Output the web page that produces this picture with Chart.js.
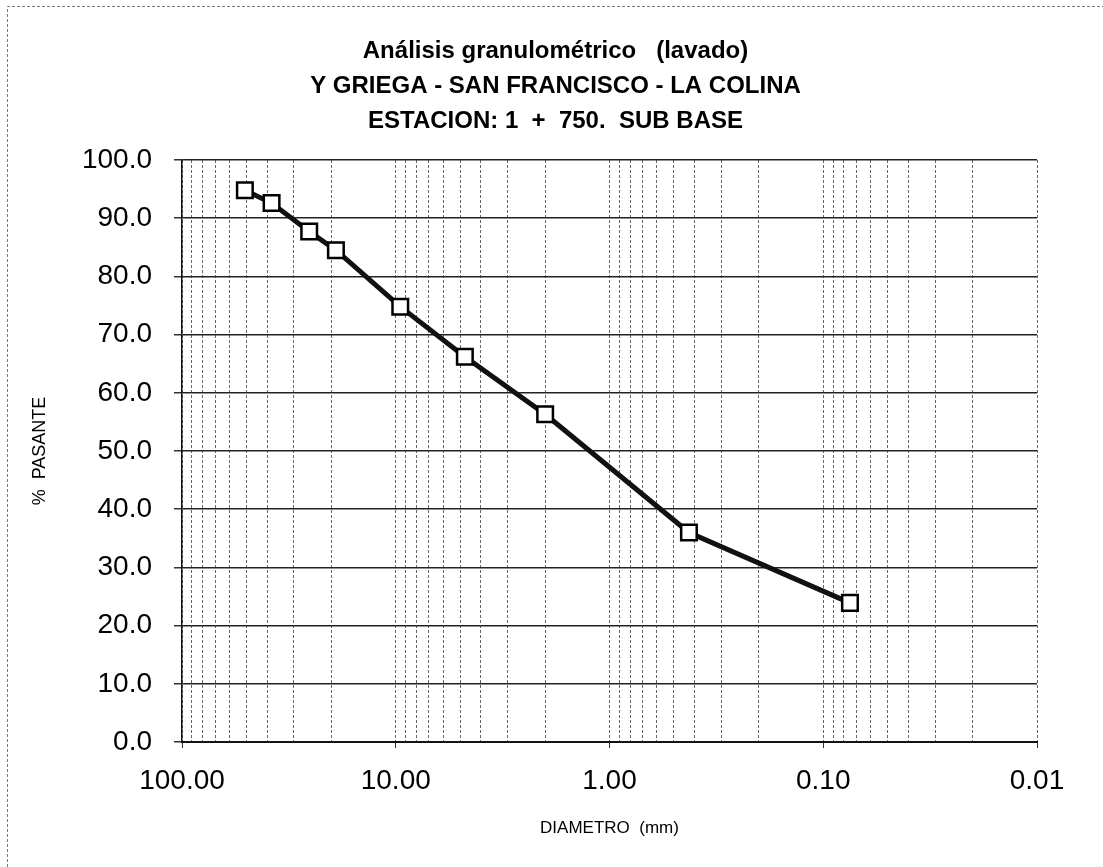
<!DOCTYPE html>
<html>
<head>
<meta charset="utf-8">
<title>Análisis granulométrico</title>
<script src="https://cdn.jsdelivr.net/npm/chart.js@4/dist/chart.umd.min.js"></script>
<style>
  html, body { margin: 0; padding: 0; background: #ffffff; }
  #wrap { width: 1103px; height: 867px; position: relative; }
  canvas { display: block; }
</style>
</head>
<body>
<div id="wrap"><canvas id="c" width="1103" height="867"></canvas></div>
<script>
// ---- data ----
const sieveSizesMm   = [50.8, 38.1, 25.4, 19.05, 9.525, 4.75, 2.0, 0.425, 0.075];
const percentPassing = [94.8, 92.6, 87.7, 84.5, 74.8, 66.2, 56.3, 36.0, 23.9];

const xTickValues = [100, 10, 1, 0.1, 0.01];
const xTickLabels = ['100.00', '10.00', '1.00', '0.10', '0.01'];
const yTickValues = [0, 10, 20, 30, 40, 50, 60, 70, 80, 90, 100];
const yTickLabels = ['0.0', '10.0', '20.0', '30.0', '40.0', '50.0', '60.0', '70.0', '80.0', '90.0', '100.0'];

const titleLines = [
  'Análisis granulométrico   (lavado)',
  'Y GRIEGA - SAN FRANCISCO - LA COLINA',
  'ESTACION: 1  +  750.  SUB BASE'
];
const xAxisTitle = 'DIAMETRO  (mm)';
const yAxisTitle = '%  PASANTE';

// log grid lines: 1..9 in each decade between the tick values
const decadeStarts = [0.01, 0.1, 1, 10];
const gridMultipliers = [1, 2, 3, 4, 5, 6, 7, 8, 9];

function findIndex(arr, v) {
  for (let i = 0; i < arr.length; i++) {
    if (Math.abs(arr[i] - v) <= Math.abs(arr[i]) * 1e-6 + 1e-9) return i;
  }
  return -1;
}

const points = sieveSizesMm.map((d, i) => ({ x: d, y: percentPassing[i] }));

Chart.defaults.font.family = '"Liberation Sans", Arial, Helvetica, sans-serif';
Chart.defaults.color = '#000';

const PAD_LEFT = 74;      // shifts the centred title toward the reference position
const AXIS_RIGHT = 182;   // x position of the y axis line

const framePlugin = {
  id: 'frame',
  beforeDraw(chart) {
    const ctx = chart.ctx;
    ctx.save();
    ctx.fillStyle = '#ffffff';
    ctx.fillRect(0, 0, chart.width, chart.height);
    ctx.strokeStyle = '#777';
    ctx.lineWidth = 1;
    ctx.setLineDash([3, 2]);
    ctx.beginPath();
    ctx.moveTo(7.5, chart.height);
    ctx.lineTo(7.5, 6.5);
    ctx.lineTo(chart.width, 6.5);
    ctx.stroke();
    ctx.restore();
  }
};

new Chart(document.getElementById('c'), {
  type: 'line',
  data: {
    datasets: [{
      data: points,
      borderColor: '#111',
      borderWidth: 5,
      tension: 0,
      fill: false,
      pointStyle: 'rect',
      pointRadius: 11,
      pointHoverRadius: 11,
      pointBackgroundColor: '#ffffff',
      pointBorderColor: '#000',
      pointBorderWidth: 2.5,
      clip: false
    }]
  },
  options: {
    responsive: false,
    animation: false,
    devicePixelRatio: 1,
    layout: { padding: { left: PAD_LEFT, right: 66, top: 0, bottom: 0 } },
    plugins: {
      legend: { display: false },
      tooltip: { enabled: false },
      title: {
        display: true,
        text: titleLines,
        color: '#000',
        font: { size: 24, weight: 'bold', lineHeight: 35 / 24 },
        padding: { top: 33.5, bottom: 21.5 }
      }
    },
    scales: {
      x: {
        type: 'logarithmic',
        min: 0.01,
        max: 100,
        reverse: true,
        afterFit(scale) { scale.height = 125; },
        afterBuildTicks(scale) {
          const vals = [];
          decadeStarts.forEach(d => gridMultipliers.forEach(m => vals.push(+(m * d).toPrecision(6))));
          vals.push(100);
          scale.ticks = vals.map(v => ({ value: v }));
        },
        ticks: {
          autoSkip: false,
          maxRotation: 0,
          minRotation: 0,
          padding: 16,
          color: '#000',
          font: { size: 28 },
          callback(value) {
            const i = findIndex(xTickValues, value);
            return i >= 0 ? xTickLabels[i] : '';
          }
        },
        grid: {
          color: '#666',
          lineWidth: 1,
          drawTicks: true,
          tickLength: 6,
          tickColor(ctx) {
            return ctx.tick && findIndex(xTickValues, ctx.tick.value) >= 0 ? '#333' : 'rgba(0,0,0,0)';
          }
        },
        border: { display: true, color: '#111', width: 2, dash: [3, 2] },
        title: {
          display: true,
          text: xAxisTitle,
          color: '#000',
          font: { size: 17 },
          padding: { top: 0, bottom: 28 }
        }
      },
      y: {
        type: 'linear',
        min: 0,
        max: 100,
        afterFit(scale) { scale.width = AXIS_RIGHT - PAD_LEFT; },
        afterBuildTicks(scale) {
          scale.ticks = yTickValues.map(v => ({ value: v }));
        },
        ticks: {
          padding: 22,
          color: '#000',
          font: { size: 28 },
          callback(value) {
            const i = findIndex(yTickValues, value);
            return i >= 0 ? yTickLabels[i] : '';
          }
        },
        grid: {
          color: '#222',
          lineWidth: 1.5,
          drawTicks: true,
          tickLength: 8,
          tickColor: '#333'
        },
        border: { display: true, color: '#111', width: 1.5 },
        title: {
          display: true,
          text: yAxisTitle,
          color: '#000',
          font: { size: 18 },
          // negative top padding pulls the rotated title back to x≈40
          padding: { top: 40 - PAD_LEFT - 10.8, bottom: 0 }
        }
      }
    }
  },
  plugins: [framePlugin]
});
</script>
</body>
</html>
